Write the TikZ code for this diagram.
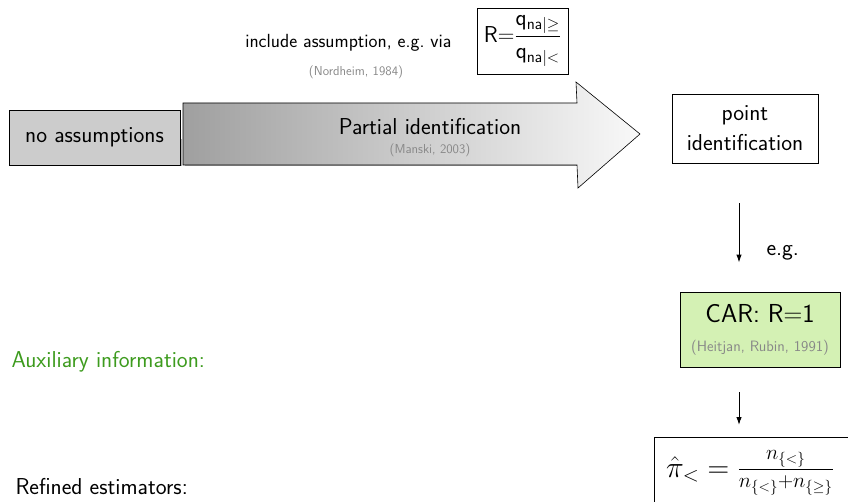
\RequirePackage{fix-cm}
\documentclass[tikz,border=0pt]{standalone}
\usepackage{amsmath,amssymb}
\usetikzlibrary{arrows.meta}
\definecolor{boxgray}{HTML}{CCCCCC}
\definecolor{cargreen}{HTML}{D4F1B4}
\definecolor{auxgreen}{HTML}{3D9B1E}
\definecolor{citegray}{HTML}{888888}
\begin{document}
\begin{tikzpicture}[x=1pt,y=-1pt,
  every node/.style={font=\sffamily\fontsize{23}{27}\selectfont},
  plainbox/.style={draw, line width=0.9pt, inner sep=0pt},
  cite/.style={font=\sffamily\fontsize{13}{15}\selectfont, text=citegray},
  darrow/.style={line width=1pt, -{Latex[length=8pt,width=5.5pt]}},
]
\useasboundingbox (0,0) rectangle (848,502);
\clip (0,0) rectangle (848,502);

% no assumptions
\fill[gray!60] (10.5,139) rectangle (181.5,166.5);
\node[plainbox, fill=boxgray, minimum width=171pt, minimum height=55pt] (noass) at (94.5,137.5) {no assumptions};

% big arrow
\fill[gray!60] (184.5,140) rectangle (578,166.5);
\shade[left color=gray!75, right color=gray!5, draw=black, line width=0.6pt]
 (183,103) -- (577,103) -- (576,82) -- (640,134) -- (578,188) -- (577,165) -- (183,165) -- cycle;
\node (partial) at (430,127) {Partial identification};
\node[cite] (manski) at (430,150) {(Manski, 2003)};

% assumption
\node[font=\sffamily\fontsize{19}{22}\selectfont, anchor=east] (include) at (455,43) {include assumption, e.g.\ via};
\node[cite] (nordheim) at (356,72) {(Nordheim, 1984)};
\node[plainbox, minimum width=91pt, minimum height=66pt] (rbox) at (522.5,41)
  {$\mathsf{R}{=}\dfrac{\mathsf{q}_{\mathsf{na}|\geq}}{\mathsf{q}_{\mathsf{na}|<}}$};

% point identification
\node[plainbox, fill=white, minimum width=146pt, minimum height=69pt, align=center] (point) at (745,128.5) {point\\[3pt]identification};

% CAR
\node[plainbox, fill=cargreen, minimum width=160pt, minimum height=75pt, align=center] (car) at (760,329.5)
  {{\fontsize{26}{30}\selectfont CAR: R$=$1}\\[2pt]{\fontsize{15}{17}\selectfont\color{citegray}(Heitjan, Rubin, 1991)}};

\coordinate (ax) at (739,0);
\draw[darrow, shorten <=40pt, shorten >=29pt] (point.south -| ax) -- (car.north -| ax);
\node[anchor=west] (eg) at (763,253) {e.g.};

% formula
\node[anchor=base east, inner sep=0pt] (formula) at (834,477)
  {\fontsize{30}{34}\selectfont$\hat{\pi}_< = \frac{n_{\{<\}}}{n_{\{<\}}+n_{\{\geq\}}}$};
\path (formula.west) ++(-12,0) coordinate (fl);
\coordinate (ftop) at (0,437);
\draw[line width=0.9pt] (fl |- ftop) rectangle (880,530);
\draw[darrow, shorten <=25pt, shorten >=12pt] (car.south -| ax) -- (ftop -| ax);

% side labels
\node[anchor=west, text=auxgreen] (aux) at (8,362) {Auxiliary information:};
\node[anchor=west] (refined) at (12,487) {Refined estimators:};
\end{tikzpicture}
\end{document}
